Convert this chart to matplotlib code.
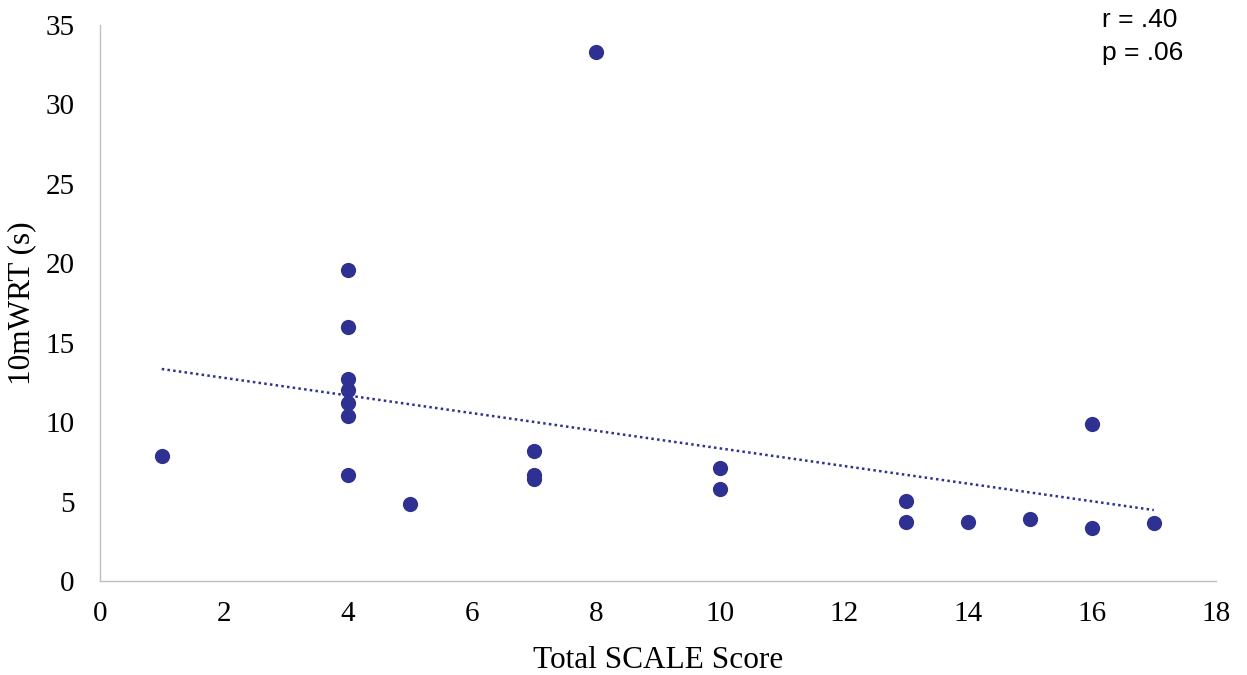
import matplotlib
matplotlib.use('Agg')

import matplotlib.pyplot as plt
import numpy as np

scale_score = [1, 4, 4, 4, 4, 4, 4, 4, 5, 7, 7, 7, 8, 10, 10, 13, 13, 14, 15, 16, 16, 17]
wrt_time = [7.9, 19.55, 16.0, 12.75, 12.0, 11.2, 10.4, 6.7, 4.85, 8.2, 6.7, 6.4,
            33.3, 7.1, 5.8, 5.05, 3.75, 3.75, 3.9, 9.9, 3.35, 3.65]
x_ticks = [0, 2, 4, 6, 8, 10, 12, 14, 16, 18]
y_ticks = [0, 5, 10, 15, 20, 25, 30, 35]
stats_text = "r = .40\np = .06"

navy = '#2E3192'

fig = plt.figure(figsize=(12.47, 6.75), dpi=100)
ax = fig.add_axes([0.080, 0.139, 0.895, 0.824])

ax.scatter(scale_score, wrt_time, s=120, color=navy, zorder=3, linewidths=0)

# linear trendline
slope, intercept = np.polyfit(scale_score, wrt_time, 1)
xs = np.array([min(scale_score), max(scale_score)])
ax.plot(xs, slope * xs + intercept, color=navy, linestyle=(0, (1, 1.3)), linewidth=1.8, zorder=2)

ax.set_xlim(0, 18)
ax.set_ylim(0, 35)
ax.set_xticks(x_ticks)
ax.set_yticks(y_ticks)

for side in ['top', 'right']:
    ax.spines[side].set_visible(False)
for side in ['left', 'bottom']:
    ax.spines[side].set_color('#BFBFBF')
    ax.spines[side].set_linewidth(1.0)

ax.tick_params(axis='x', length=0, pad=14, labelsize=21)
ax.tick_params(axis='y', length=0, pad=18, labelsize=21)
for lbl in ax.get_xticklabels() + ax.get_yticklabels():
    lbl.set_fontfamily('Liberation Serif')

ax.set_xlabel('Total SCALE Score', fontfamily='Liberation Serif', fontsize=22.5, labelpad=14)
ax.set_ylabel('10mWRT (s)', fontfamily='Liberation Serif', fontsize=22.5)
ax.yaxis.set_label_coords(-0.057, 0.5)

fig.text(0.884, 0.988, stats_text, fontfamily='Liberation Sans', fontsize=19,
         va='top', ha='left', linespacing=1.45)

fig.savefig('out.png', dpi=100, facecolor='white')
